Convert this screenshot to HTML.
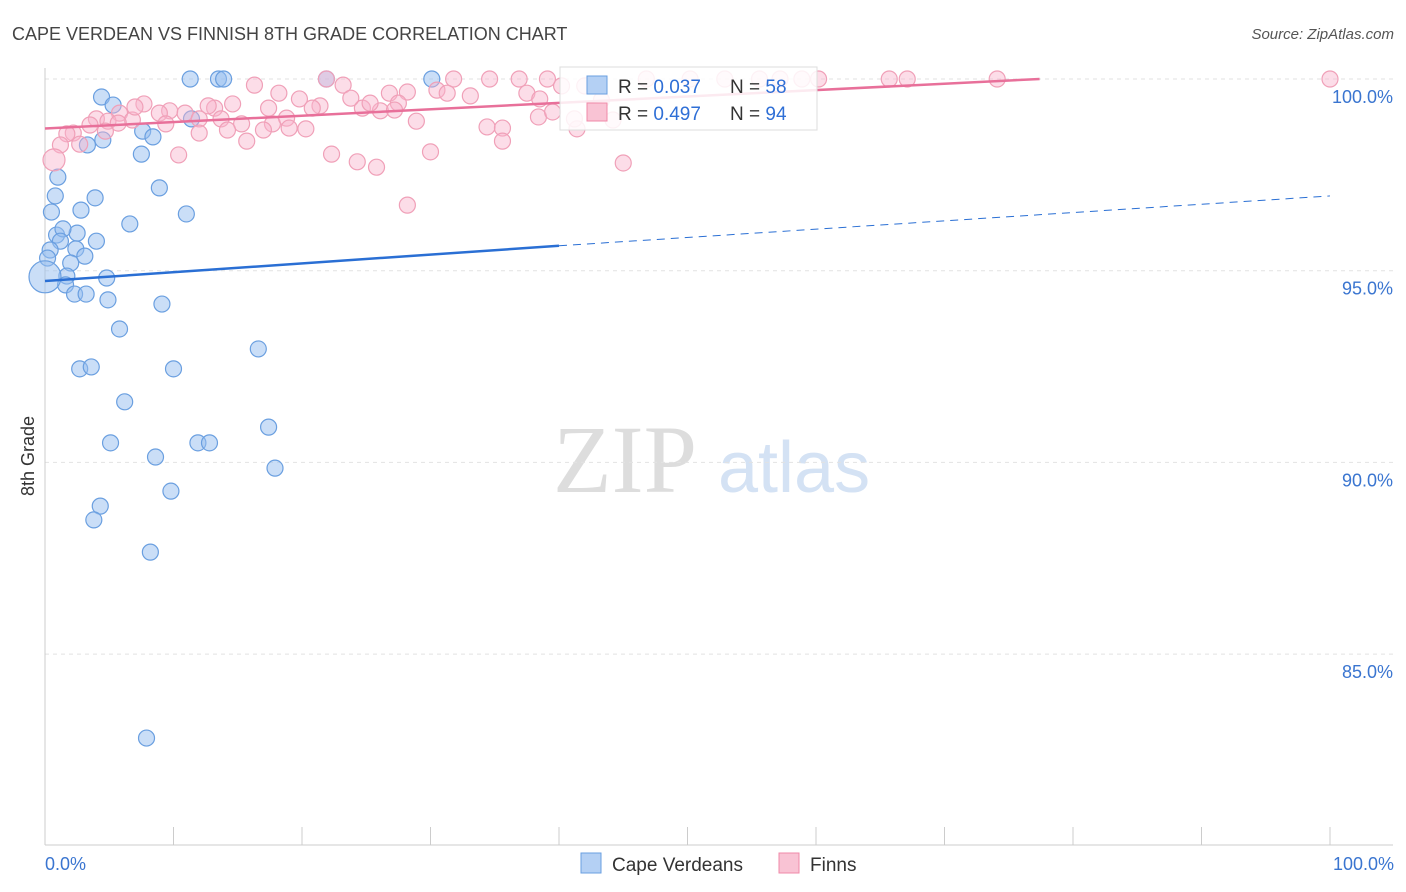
<!DOCTYPE html>
<html><head><meta charset="utf-8"><style>
body{margin:0;background:#fff;font-family:"Liberation Sans",sans-serif}
svg{display:block}
</style></head><body>
<svg id="chart" width="1406" height="892">
<text x="12" y="40" font-size="18" fill="#444">CAPE VERDEAN VS FINNISH 8TH GRADE CORRELATION CHART</text>
<text x="1394" y="39" font-size="15" fill="#555" font-style="italic" text-anchor="end">Source: ZipAtlas.com</text>
<g>
<text x="553" y="492" font-size="96" font-family="Liberation Serif,serif" fill="#ddd">ZIP</text>
<text x="718" y="492" font-size="72" fill="#d4e2f4">atlas</text>
</g>
<g id="grid"></g>
<g id="axes"></g>
<g id="pts"></g>
<g id="lines"></g>
<g>
<rect x="560" y="67" width="257" height="63" fill="#fff" fill-opacity="0.85" stroke="#ddd"/>
<rect x="587" y="76" width="20" height="18" fill="#b4d0f4" stroke="#6a9fe0"/>
<text x="618" y="93" font-size="19" fill="#333">R = <tspan fill="#2f6fd6">0.037</tspan></text>
<text x="730" y="93" font-size="19" fill="#333">N = <tspan fill="#2f6fd6">58</tspan></text>
<rect x="587" y="103" width="20" height="18" fill="#f9c3d4" stroke="#f08aa8"/>
<text x="618" y="120" font-size="19" fill="#333">R = <tspan fill="#2f6fd6">0.497</tspan></text>
<text x="730" y="120" font-size="19" fill="#333">N = <tspan fill="#2f6fd6">94</tspan></text>
</g>
<text transform="translate(34,456) rotate(-90)" font-size="18" fill="#333" text-anchor="middle">8th Grade</text>
<text x="45" y="870" font-size="18" fill="#3a75d0">0.0%</text>
<text x="1394" y="870" font-size="18" fill="#3a75d0" text-anchor="end">100.0%</text>
<g>
<rect x="581" y="853" width="20" height="20" fill="#b4d0f4" stroke="#6a9fe0"/>
<text x="612" y="871" font-size="19" fill="#333">Cape Verdeans</text>
<rect x="779" y="853" width="20" height="20" fill="#f9c3d4" stroke="#f08aa8"/>
<text x="810" y="871" font-size="19" fill="#333">Finns</text>
</g>
</svg>
<script>
const yTicks=[100,95,90,85];
const yTickLabels=["100.0%","95.0%","90.0%","85.0%"];
const xTicks=[0,10,20,30,40,50,60,70,80,90,100];
const blueX=[11.3,13.5,13.9,30.1,21.9,4.4,5.3,7.6,8.4,3.3,4.5,7.5,11.4,1.0,8.9,0.8,3.9,0.5,2.8,11.0,6.6,0.9,2.5,1.4,1.2,4.0,0.4,2.4,3.1,0.2,2.0,1.7,1.6,4.8,2.3,3.2,4.9,9.1,5.8,16.6,2.7,3.6,10.0,6.2,17.4,5.1,11.9,12.8,8.6,17.9,9.8,4.3,3.8,8.2,7.9,0];
const blueY=[100,100,100,100,100,99.53,99.32,98.64,98.49,98.28,98.41,98.04,98.96,97.44,97.16,96.95,96.9,96.53,96.58,96.48,96.22,95.93,95.98,96.09,95.77,95.77,95.54,95.57,95.38,95.33,95.2,94.86,94.63,94.81,94.39,94.39,94.24,94.13,93.48,92.96,92.44,92.49,92.44,91.58,90.92,90.51,90.51,90.51,90.14,89.85,89.25,88.86,88.5,87.66,82.81,94.84];
const pinkX=[21.9,31.8,34.6,36.9,39.1,46.8,50.2,52.9,55.6,57.2,58.9,60.2,65.7,67.1,74.1,100,16.3,23.2,18.2,19.8,26.8,28.2,30.5,31.3,33.1,37.5,38.5,40.2,42.0,43.3,21.4,20.8,24.7,26.1,23.8,25.3,27.5,27.2,14.6,13.2,12.7,7.7,10.9,9.7,8.9,5.8,4.0,4.9,6.8,5.7,3.5,12.0,13.7,17.4,17.7,18.8,15.3,19.0,20.3,17.0,14.2,12.0,15.7,9.4,4.7,2.2,1.7,1.2,2.7,0.7,10.4,22.3,24.3,25.8,30.0,28.2,28.9,34.4,35.6,35.6,38.4,39.5,41.4,41.2,44.2,45.0,7.0];
const pinkY=[100,100,100,100,100,100,100,100,100,100,100,100,100,100,100,100,99.84,99.84,99.63,99.48,99.63,99.66,99.71,99.63,99.56,99.63,99.48,99.82,99.82,99.45,99.3,99.24,99.24,99.17,99.5,99.37,99.37,99.19,99.35,99.24,99.3,99.35,99.11,99.17,99.11,99.11,98.96,98.9,98.93,98.85,98.8,98.96,98.96,99.24,98.83,98.98,98.83,98.72,98.7,98.67,98.67,98.59,98.38,98.83,98.64,98.59,98.57,98.28,98.3,97.89,98.02,98.04,97.84,97.7,98.1,96.71,98.9,98.75,98.72,98.38,99.01,99.14,98.7,98.96,98.93,97.81,99.27];
const blueTrend=[94.73,95.65,96.95];
const pinkTrend=[98.71,100];
const xs=v=>45+v*12.85, ys=v=>79+(100-v)*38.34;
const NS="http://www.w3.org/2000/svg";
function mk(t,a,p){const e=document.createElementNS(NS,t);for(const k in a)e.setAttribute(k,a[k]);p.appendChild(e);return e;}
const grid=document.getElementById('grid'),axes=document.getElementById('axes'),pts=document.getElementById('pts'),lines=document.getElementById('lines');
yTicks.forEach((t,i)=>{
 const l=mk('line',{x1:45,x2:1393,y1:ys(t),y2:ys(t),stroke:'#e2e2e2','stroke-dasharray':'4,4'},grid);
 
 
 const tx=mk('text',{x:1393,y:ys(t)+24,'font-size':18,fill:'#3a75d0','text-anchor':'end'},grid);
 tx.textContent=yTickLabels[i];
 
 
});
const ya=mk('line',{x1:45,x2:45,y1:68,y2:845,stroke:'#ccc'},axes);


const xa=mk('line',{x1:45,x2:1393,y1:845,y2:845,stroke:'#ccc'},axes);


xTicks.forEach(t=>{
 const l=mk('line',{x1:xs(t),x2:xs(t),y1:827,y2:845,stroke:'#ccc'},axes);
 
 
});
blueX.forEach((x,i)=>{
 const c=mk('circle',{cx:xs(x),cy:ys(blueY[i]),r:i==blueX.length-1?16:8,fill:'rgba(150,190,240,0.5)',stroke:'#6a9fe0','stroke-width':1.2},pts);
 
 
});
pinkX.forEach((x,i)=>{
 const c=mk('circle',{cx:xs(x),cy:ys(pinkY[i]),r:(x==0.7)?11:8,fill:'rgba(248,180,205,0.45)',stroke:'#f0a0b8','stroke-width':1.2},pts);
 
 
});
let l1=mk('line',{x1:xs(0),y1:ys(blueTrend[0]),x2:xs(40),y2:ys(blueTrend[1]),stroke:'#2a6fd4','stroke-width':2.5},lines);


let l2=mk('line',{x1:xs(40),y1:ys(blueTrend[1]),x2:xs(100),y2:ys(blueTrend[2]),stroke:'#2a6fd4','stroke-width':1,'stroke-dasharray':'8,6'},lines);


let l3=mk('line',{x1:xs(0),y1:ys(pinkTrend[0]),x2:xs(77.4),y2:ys(pinkTrend[1]),stroke:'#e8709a','stroke-width':2.5},lines);


</script>
</body></html>
